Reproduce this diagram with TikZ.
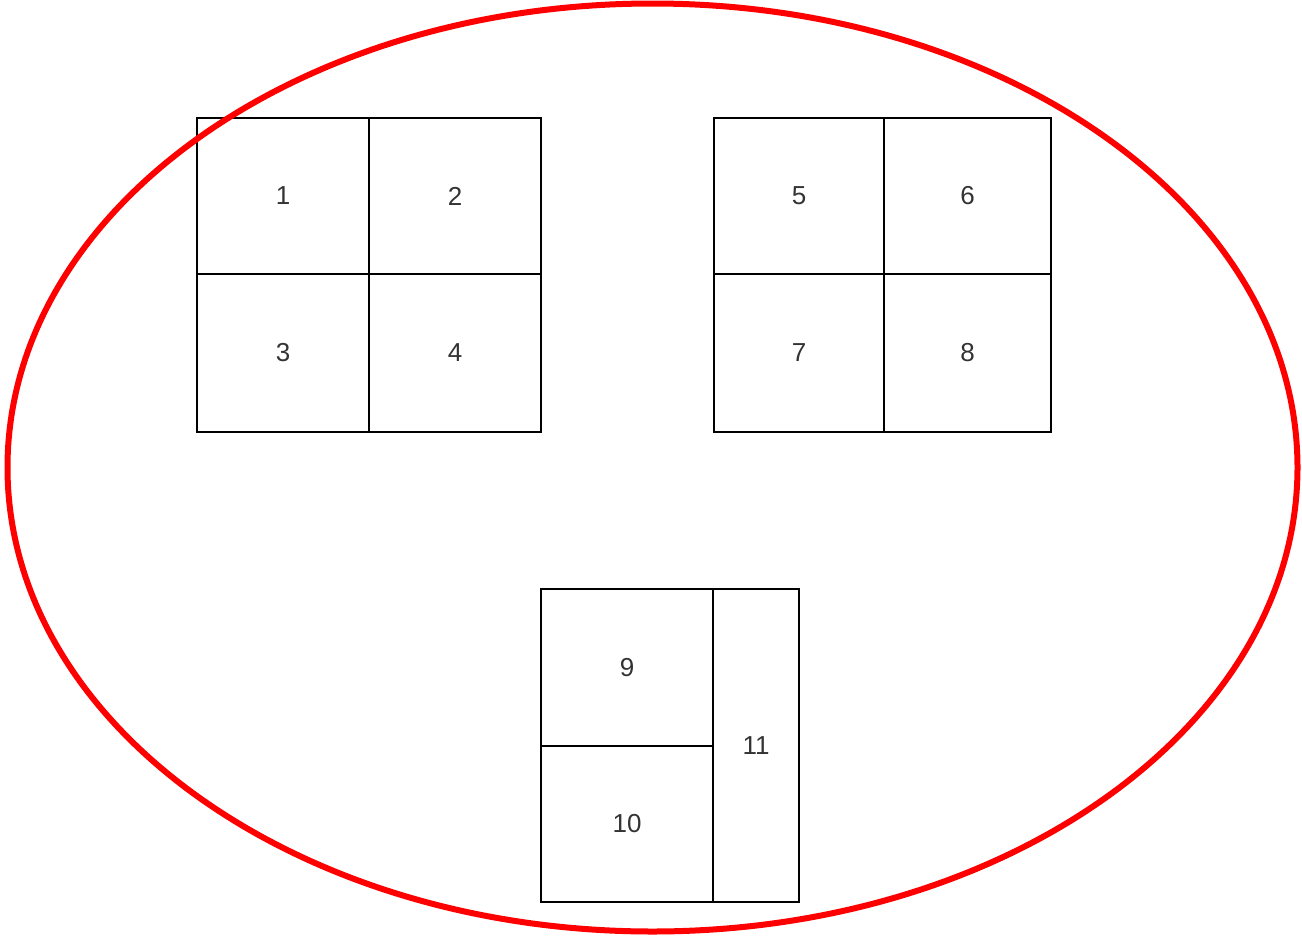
\documentclass[tikz,border=0pt]{standalone}
\usepackage{fontspec}
\setmainfont{Liberation Sans}
\usetikzlibrary{shapes.geometric}
\begin{document}
\begin{tikzpicture}[x=1pt,y=-1pt,
  cell/.style={draw=black, line width=1.8pt, inner sep=0pt, text=black!80,
    font=\fontsize{26}{28}\selectfont},
  ring/.style={draw=red, line width=6pt}]
\useasboundingbox (0,0) rectangle (1302,943);
% grid 1
\node[cell, minimum width=172pt, minimum height=156pt] (c1) at (283,196) {1};
\node[cell, minimum width=172pt, minimum height=156pt] (c2) at (455,196) {2};
\node[cell, minimum width=172pt, minimum height=158pt] (c3) at (283,353) {3};
\node[cell, minimum width=172pt, minimum height=158pt] (c4) at (455,353) {4};
% grid 2
\node[cell, minimum width=170pt, minimum height=156pt] (c5) at (799,196) {5};
\node[cell, minimum width=167pt, minimum height=156pt] (c6) at (967.5,196) {6};
\node[cell, minimum width=170pt, minimum height=158pt] (c7) at (799,353) {7};
\node[cell, minimum width=167pt, minimum height=158pt] (c8) at (967.5,353) {8};
% grid 3
\node[cell, minimum width=172pt, minimum height=157pt] (c9) at (627,667.5) {9};
\node[cell, minimum width=172pt, minimum height=156pt] (c10) at (627,824) {10};
\node[cell, minimum width=86pt, minimum height=313pt] (c11) at (756,745.5) {11};
% ring
\node[ring, ellipse, minimum width=1290pt, minimum height=928pt, inner sep=0pt] (ring) at (652.5,467.5) {};
\end{tikzpicture}
\end{document}
